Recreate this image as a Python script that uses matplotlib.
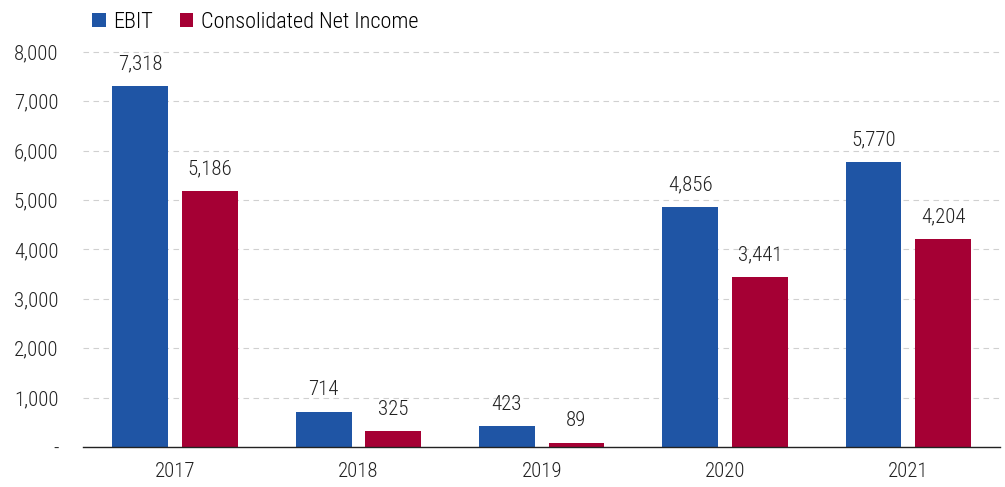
import numpy as np
import matplotlib.pyplot as plt
from matplotlib.ticker import FuncFormatter

plt.rcParams['font.family'] = ['Roboto Condensed', 'Roboto', 'DejaVu Sans']
plt.rcParams['font.stretch'] = 'condensed'
plt.rcParams['font.weight'] = 'light'

years = ['2017', '2018', '2019', '2020', '2021']
ebit = [7318, 714, 423, 4856, 5770]
net_income = [5186, 325, 89, 3441, 4204]

blue = '#1F55A5'
red = '#A50034'

fig = plt.figure(figsize=(10.05, 4.87), dpi=100)
ax = fig.add_axes([0.083, 0.082, 0.912, 0.842])

x = np.arange(len(years))
w = 0.305
off = 0.19
b1 = ax.bar(x - off, ebit, w, color=blue, label='EBIT')
b2 = ax.bar(x + off, net_income, w, color=red, label='Consolidated Net Income')

# value labels above bars
for bars, vals in ((b1, ebit), (b2, net_income)):
    for rect, v in zip(bars, vals):
        ax.annotate(f'{v:,}', (rect.get_x() + rect.get_width() / 2, v),
                    xytext=(0, 9), textcoords='offset points',
                    ha='center', va='bottom', fontsize=15, color='#222222')

ax.set_xlim(-0.5, len(years) - 0.5)
ax.set_ylim(0, 8300)
ax.set_yticks(range(0, 8001, 1000))
ax.yaxis.set_major_formatter(FuncFormatter(lambda v, p: '-' if v == 0 else f'{int(v):,}'))
ax.set_xticks(x)
ax.set_xticklabels(years)
ax.tick_params(axis='both', length=0, labelsize=15, colors='#222222')
ax.tick_params(axis='y', pad=18)
ax.tick_params(axis='x', pad=11)

ax.grid(axis='y', linestyle=(0, (5, 4)), color='#d0d0d0', linewidth=0.8)
ax.set_axisbelow(True)
for s in ['left', 'right', 'top']:
    ax.spines[s].set_visible(False)
ax.spines['bottom'].set_color('#222222')
ax.spines['bottom'].set_linewidth(1.0)

fig.legend(loc='upper left', bbox_to_anchor=(0.072, 1.016), ncol=2, frameon=False,
           fontsize=16, handlelength=0.6, handleheight=0.6, handletextpad=0.35,
           columnspacing=1.2)

fig.savefig('out.png', dpi=100)
